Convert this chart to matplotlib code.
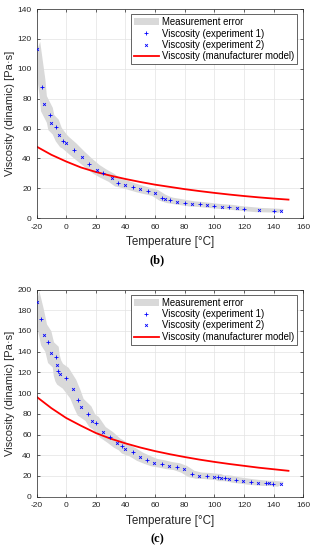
import numpy as np
import matplotlib
matplotlib.use("Agg")
import matplotlib.pyplot as plt

# panel (b) measurements
b_temp = [-19.5, -16, -15, -11, -10, -7, -5, -2, -0.3, 5, 10.5, 15.6, 20.6, 25, 30.7, 35, 40, 45, 50,
          55, 60, 65, 67, 70, 75, 80, 85, 90, 95, 100, 105, 110, 115, 120, 130, 140, 145]
b_visc = [113, 87.7, 76.7, 68.9, 64, 61, 56, 52, 50.6, 46, 41, 36.6, 32.6, 30, 27, 23.8, 22.6, 21, 19.5,
          18.2, 17, 13.8, 13, 12, 11.2, 10.4, 9.6, 9.3, 8.8, 8.3, 7.8, 7.5, 6.9, 6.4, 5.5, 5.2, 4.9]
b_err = [5, 5, 5, 5, 5, 5, 4.5, 4.5, 4, 4, 3.5, 3.2, 3, 2.8, 2.6, 2.5, 2.4, 2.3, 2.2,
         2.1, 2, 2, 1.9, 1.8, 1.8, 1.7, 1.7, 1.6, 1.6, 1.5, 1.5, 1.5, 1.4, 1.4, 1.4, 1.3, 1.3]

# panel (c) measurements
c_temp = [-20, -17.2, -14.9, -12, -10.2, -7, -6.4, -5.3, -4.1, -0.3, 4.8, 7.8, 9.8, 15, 17.7, 20,
          24.7, 29.6, 34.5, 37.5, 39.7, 44.9, 49.8, 54.8, 59.5, 64.7, 69.6, 74.6, 79.5, 84.7, 89.6,
          94.8, 99.8, 102.7, 104.5, 107.5, 110.1, 114.6, 119.6, 124.5, 129.7, 134.9, 137.1, 139.8, 145]
c_visc = [188, 171.7, 156.2, 149.8, 139, 134.7, 127, 121.4, 118.2, 114.4, 103.8, 93.4, 86.4, 80.2, 73.1, 71,
          62.2, 57.4, 51.6, 49.3, 46.1, 42.9, 38.6, 35.5, 32.9, 31.6, 30, 29, 26.5, 21.9, 20.3,
          20, 19.3, 19, 17.8, 17.8, 17.5, 16.1, 15.2, 14.2, 13.5, 12.9, 12.9, 12.7, 12]
c_err = [10, 10, 10, 10, 10, 10, 10, 10, 10, 10, 9, 9, 8, 7, 6, 6,
         5, 5, 4.5, 4.5, 4.5, 4, 4, 3.8, 3.6, 3.5, 3.4, 3.3, 3.2, 3, 3,
         2.9, 2.9, 2.8, 2.8, 2.8, 2.7, 2.7, 2.6, 2.6, 2.5, 2.5, 2.5, 2.4, 2.4]

# manufacturer model
model_temp = [-20, -10, 0, 10, 20, 30, 40, 50, 60, 70, 80, 90, 100, 110, 120, 130, 140, 150]
b_model = [48, 42.5, 38, 34, 31, 28.5, 26.3, 24.3, 22.5, 21, 19.5, 18.2, 17, 15.9, 14.9, 14, 13.2, 12.5]
c_model = [96.5, 85.5, 76, 68.5, 61.5, 56, 51.5, 47.5, 44, 41, 38.3, 35.8, 33.6, 31.6, 29.8, 28, 26.5, 25]

temp_err = 2.0

plt.rcParams['font.family'] = ['Liberation Sans', 'DejaVu Sans']
plt.rcParams['axes.unicode_minus'] = False

fig = plt.figure(figsize=(3.14, 5.5), dpi=100)
L, W = 36.5 / 314, (303.3 - 36.5) / 314
ax_b = fig.add_axes([L, 1 - 218.3 / 550, W, (218.3 - 9) / 550])
ax_c = fig.add_axes([L, 1 - 496.7 / 550, W, (496.7 - 289.5) / 550])

dark = '#262626'


def draw(ax, temp, visc, err, model, ymax, ystep):
    t = np.array(temp)
    v = np.array(visc)
    e = np.array(err)
    # band envelope: curve falls, so upper edge goes right+up, lower edge left+down
    xs = np.concatenate([t + temp_err, (t - temp_err)[::-1]])
    ys = np.concatenate([v + e, (v - e)[::-1]])
    ax.fill(xs, ys, color='#d9d9d9', lw=0, label='Measurement error', zorder=1)
    ax.plot(t[1::2], v[1::2], '+', color='blue', ms=3.5, mew=0.6,
            label='Viscosity (experiment 1)', zorder=3)
    ax.plot(t[0::2], v[0::2], 'x', color='blue', ms=2.0, mew=0.6,
            label='Viscosity (experiment 2)', zorder=3)
    ax.plot(model_temp, model, '-', color='red', lw=1.3,
            label='Viscosity (manufacturer model)', zorder=2)
    ax.set_xlim(-20, 160)
    ax.set_ylim(0, ymax)
    ax.set_xticks(np.arange(-20, 161, 20))
    ax.set_yticks(np.arange(0, ymax + 1, ystep))
    ax.grid(True, color='#e3e3e3', lw=0.5)
    ax.set_axisbelow(True)
    ax.tick_params(direction='in', length=2, width=0.5, labelsize=6, colors=dark,
                   top=True, right=True)
    ax.tick_params(axis='x', pad=4)
    ax.tick_params(axis='y', pad=3.5)
    for s in ax.spines.values():
        s.set_color(dark)
        s.set_linewidth(0.5)
    ax.set_xlabel('Temperature [°C]', fontsize=8.4, color=dark, labelpad=4)
    ax.set_ylabel('Viscosity (dinamic) [Pa·s]', fontsize=8, color=dark, labelpad=2)
    leg = ax.legend(loc='upper right', bbox_to_anchor=(0.975, 0.975), borderaxespad=0,
                    fontsize=6.9, fancybox=False, framealpha=1, handlelength=2.6,
                    handletextpad=0.3, labelspacing=0.15, borderpad=0.3)
    leg.get_frame().set_edgecolor(dark)
    leg.get_frame().set_linewidth(0.5)


draw(ax_b, b_temp, b_visc, b_err, b_model, 140, 20)
draw(ax_c, c_temp, c_visc, c_err, c_model, 200, 20)

fig.text(0.5, 1 - 260 / 550, '(b)', ha='center', va='center', family='Liberation Serif',
         weight='bold', fontsize=9)
fig.text(0.5, 1 - 539 / 550, '(c)', ha='center', va='center', family='Liberation Serif',
         weight='bold', fontsize=9)

fig.savefig('out.png', dpi=100)
